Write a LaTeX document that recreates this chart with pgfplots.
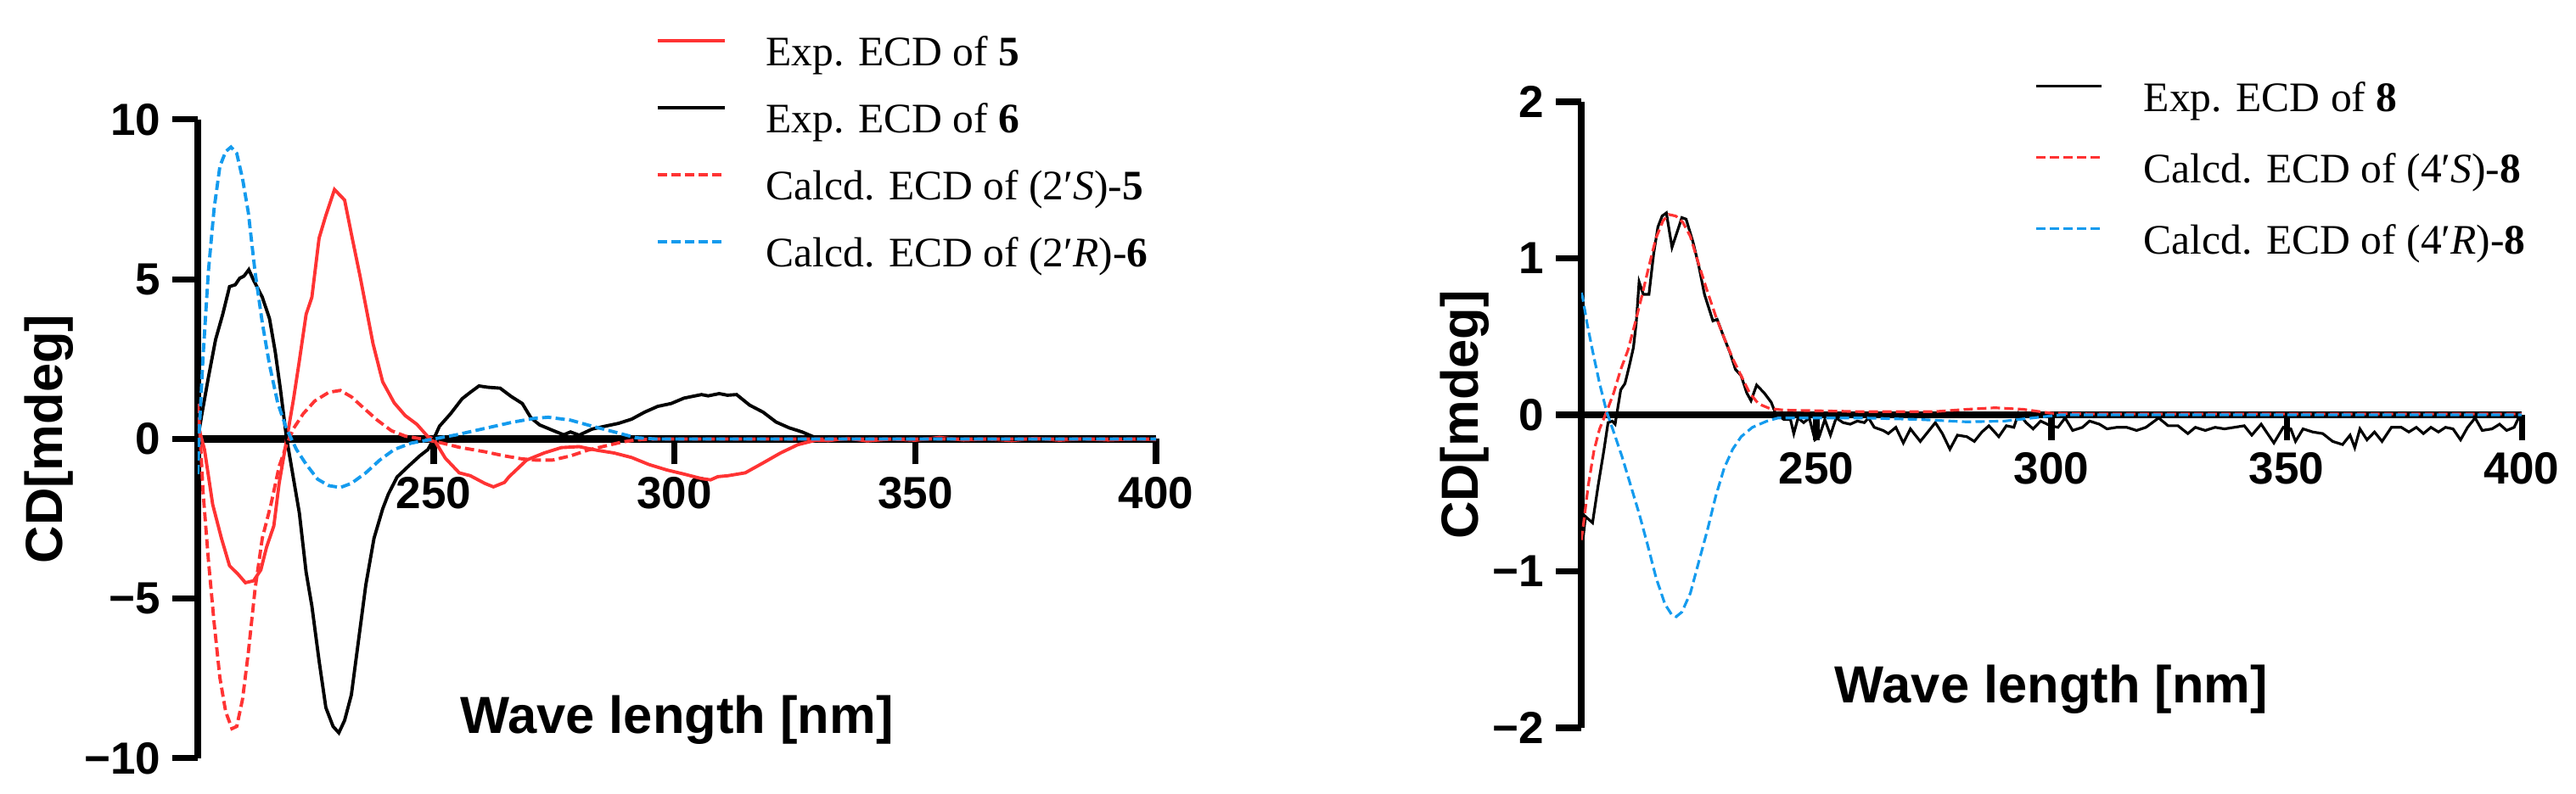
\documentclass[border=0pt]{standalone}
\usepackage{fontspec}
\setmainfont{Liberation Serif}
\newfontfamily\arialfont{Liberation Sans}
\usepackage{pgfplots}
\pgfplotsset{compat=1.18}
\definecolor{cdred}{RGB}{255,51,51}
\definecolor{cdblue}{RGB}{20,155,238}
\newcommand{\tickfont}{\arialfont\bfseries\fontsize{15.1pt}{16pt}\selectfont}
\newcommand{\labfont}{\arialfont\bfseries\fontsize{17.5pt}{19pt}\selectfont}
\newcommand{\legfont}{\fontsize{14.1pt}{16pt}\selectfont}
\pgfplotsset{
  cdaxis/.style={
    scale only axis,
    anchor=south west,
    axis x line=middle, axis y line=left,
    axis line style={line width=2.3pt,-},
    every inner x axis line/.append style={-},
    every outer x axis line/.append style={-},
    every inner y axis line/.append style={-},
    every outer y axis line/.append style={-},
    hide obscured x ticks=false, hide obscured y ticks=false,
    tick align=outside,
    major tick length=0.3cm,
    tick style={line width=2pt,black},
    xtick={250,300,350,400},
    xticklabels={250,300,350,400},
    xmax=400,
    ticklabel style={font=\tickfont},
    xticklabel style={inner sep=0pt, yshift=-0.14cm},
    yticklabel style={inner sep=0pt, xshift=-0.13cm},
    xlabel={Wave length [nm]},
    ylabel={CD[mdeg]},
    every axis x label/.style={font=\labfont,anchor=center},
    every axis y label/.style={font=\labfont,anchor=center,rotate=90},
    legend cell align=left,
    legend style={draw=none, fill=none, inner sep=0pt, font=\legfont,
      nodes={inner sep=0pt, text height=0.36cm, text depth=0.1cm},
      /tikz/every odd column/.append style={column sep=0.47cm}},
  },
  cddash/.style={dash pattern=on 3.1pt off 1.45pt},
}
\begin{document}
\begin{tikzpicture}
\useasboundingbox (0,0) rectangle (30.35cm,9.36cm);
% ---------------- left panel ----------------
\begin{axis}[cdaxis,
  at={(2.33cm,0.42cm)}, width=11.29cm, height=7.53cm,
  xmin=201, ymin=-10, ymax=10,
  ytick={-10,-5,0,5,10}, yticklabels={−10,−5,0,5,10},
  every axis x label/.append style={at={(axis description cs:0.5,0.06)}},
  every axis y label/.append style={at={(axis description cs:-0.155,0.5)}},
  legend image code/.code={\draw[#1] (0cm,0.17cm) -- (0.79cm,0.17cm);},
  legend style={at={(axis description cs:0.4775,1.1328)}, anchor=north west, row sep=0.33cm},
]
\addplot[cdred, line width=1.1pt] coordinates {
(201,0.46)(202.4,-0.33)(204.1,-2.05)(205.9,-3.1)(207.6,-3.97)(209.4,-4.24)(210.9,-4.5)(212.6,-4.44)(214.1,-4.1)(215.3,-3.38)(216.8,-2.72)(217.9,-1.39)(219.4,-0.07)(220.9,1.26)(222.1,2.45)(223.5,3.9)(224.7,4.44)(226.2,6.29)(227.6,7.0)(229.4,7.81)(231.5,7.48)(232.9,6.42)(234.7,5.1)(237.4,2.98)(239.4,1.79)(241.8,1.13)(244.1,0.73)(246.5,0.46)(248.8,0.07)(250,0)(252.4,-0.6)(255.3,-1.06)(257.6,-1.15)(260.6,-1.39)(262.4,-1.5)(264.7,-1.36)(265.6,-1.19)(269.3,-0.66)(272.9,-0.44)(276.5,-0.27)(280.2,-0.24)(283.8,-0.35)(287.5,-0.44)(291.1,-0.58)(294.7,-0.8)(298.4,-0.97)(302.0,-1.1)(305.6,-1.24)(307.5,-1.28)(309,-1.18)(311.1,-1.15)(314.7,-1.06)(318.4,-0.75)(322.0,-0.44)(325.6,-0.18)(329.3,-0.04)(332,-0.05)(336,0.02)(340,-0.06)(345,0.0)(350,-0.04)(355,0.05)(360,-0.03)(365,0.0)(370,-0.05)(375,0.02)(380,-0.04)(385,0.01)(390,-0.03)(395,0.0)(400,-0.02)
};
\addlegendentry{Exp. ECD of \textbf{5}}
\addplot[black, line width=1.1pt] coordinates {
(201,0)(201.8,0.73)(203.2,1.92)(204.7,3.11)(206.2,3.91)(207.6,4.77)(208.8,4.83)(209.7,5.03)(210.6,5.1)(211.6,5.3)(212.6,4.97)(214.4,4.44)(215.9,3.77)(217.1,2.72)(218.2,1.52)(219.4,0.07)(220.9,-1.26)(222.1,-2.32)(223.5,-4.17)(224.7,-5.23)(226.2,-6.95)(227.6,-8.41)(229.1,-9.0)(230.3,-9.2)(231.5,-8.81)(232.9,-8.01)(234.4,-6.29)(235.9,-4.57)(237.6,-3.11)(239.4,-2.19)(240.6,-1.72)(242.4,-1.19)(244.7,-0.86)(247.1,-0.53)(248.8,-0.33)(250,0)(251.2,0.4)(253.5,0.79)(255.9,1.26)(257.6,1.46)(259.4,1.66)(261.2,1.62)(263.8,1.59)(266.1,1.33)(268.4,1.11)(270.2,0.66)(272.0,0.44)(274.7,0.27)(277.0,0.13)(278.4,0.22)(280.2,0.12)(282.9,0.31)(285.6,0.4)(288.4,0.49)(291.1,0.62)(293.8,0.84)(296.5,1.02)(299.3,1.11)(302.0,1.28)(305.6,1.39)(307,1.35)(309.3,1.42)(311,1.37)(312.9,1.39)(315.6,1.06)(318.4,0.84)(321.1,0.53)(323.8,0.35)(326.5,0.22)(329.3,0.04)(332.0,0.06)(336,0.0)(340,0.02)(350,0.0)(360,0.01)(370,-0.01)(380,0.0)(390,0.01)(400,0)
};
\addlegendentry{Exp. ECD of \textbf{6}}
\addplot[cdred, line width=1.1pt, cddash] coordinates {
(201,1.1)(201.5,0.1)(202.1,-1.66)(203.2,-3.77)(204.4,-5.76)(205.6,-7.48)(206.8,-8.54)(208.1,-9.07)(209.1,-9.0)(210.3,-8.15)(211.5,-6.69)(212.9,-4.7)(214.4,-3.11)(216.2,-2.05)(217.9,-0.86)(219.4,-0.2)(220.9,0.33)(222.9,0.79)(225.3,1.19)(228.2,1.46)(230.6,1.52)(232.9,1.32)(235.3,0.99)(238.2,0.6)(241.2,0.26)(244.1,0.09)(247.6,0)(251.8,-0.13)(255.3,-0.26)(260.6,-0.4)(264.7,-0.53)(268.2,-0.62)(271.1,-0.66)(274.7,-0.66)(278.4,-0.53)(282.0,-0.35)(285.6,-0.22)(289.3,-0.09)(292.0,-0.03)(296,0)(400,0)
};
\addlegendentry{Calcd. ECD of (2′\textit{S})-\textbf{5}}
\addplot[cdblue, line width=1.1pt, cddash] coordinates {
(201,-1.1)(201.3,0.2)(202.1,2.58)(203.2,5.23)(204.4,7.22)(205.6,8.54)(206.8,9.0)(207.9,9.14)(209.1,8.94)(210.3,8.15)(211.5,7.09)(212.9,5.23)(214.4,3.64)(215.9,2.32)(217.6,1.13)(219.4,0.33)(221.5,-0.33)(223.5,-0.79)(225.9,-1.26)(228.2,-1.46)(230.6,-1.52)(232.9,-1.39)(235.9,-1.06)(238.8,-0.66)(241.8,-0.33)(245.3,-0.13)(250,0)(254.7,0.13)(260.6,0.33)(266.5,0.53)(271.1,0.65)(273.8,0.68)(278.4,0.59)(282.9,0.4)(287.5,0.22)(292.0,0.04)(296,0)(400,0)
};
\addlegendentry{Calcd. ECD of (2′\textit{R})-\textbf{6}}
\end{axis}
% ---------------- right panel ----------------
\begin{axis}[cdaxis,
  at={(18.63cm,0.78cm)}, width=11.08cm, height=7.38cm,
  xmin=200, ymin=-2, ymax=2,
  ytick={-2,-1,0,1,2}, yticklabels={−2,−1,0,1,2},
  every axis x label/.append style={at={(axis description cs:0.5,0.061)}},
  every axis y label/.append style={at={(axis description cs:-0.124,0.5)}},
  legend image code/.code={\draw[#1] (0cm,0.17cm) -- (0.77cm,0.17cm);},
  legend style={at={(axis description cs:0.482,1.034)}, anchor=north west, row sep=0.38cm,
    /tikz/every odd column/.append style={column sep=0.48cm}},
]
\addplot[black, line width=0.9pt] coordinates {
(200,-0.9)(200.9,-0.65)(202.4,-0.69)(203.6,-0.45)(204.8,-0.23)(205.7,-0.05)(206.6,-0.04)(207.2,-0.06)(207.8,0.05)(208.4,0.16)(209.3,0.2)(210.2,0.31)(211.1,0.43)(211.7,0.59)(212.3,0.85)(213.2,0.77)(214.4,0.77)(215.4,1.03)(216.3,1.2)(217.2,1.27)(218.1,1.29)(219.3,1.07)(221.4,1.26)(222.3,1.25)(223.8,1.1)(225.0,0.95)(226.2,0.77)(228.0,0.6)(228.9,0.61)(230.4,0.49)(231.6,0.4)(232.8,0.29)(234.0,0.25)(235.2,0.14)(236.1,0.09)(237.3,0.19)(238.9,0.14)(240.4,0.08)(241.3,0.01)(243.1,-0.03)(244.5,-0.03)(245.2,-0.12)(246.1,-0.02)(247.3,-0.05)(248.5,-0.02)(249.7,-0.16)(250.6,-0.14)(251.8,-0.03)(253.0,-0.13)(254.2,-0.02)(255.7,-0.05)(257.2,-0.06)(258.7,-0.04)(260.2,-0.05)(261.1,-0.02)(262.3,-0.08)(264.2,-0.1)(265.3,-0.12)(266.9,-0.08)(268.5,-0.18)(270.0,-0.09)(272.1,-0.17)(273.7,-0.11)(275.3,-0.05)(276.8,-0.12)(278.4,-0.22)(280.0,-0.13)(282.0,-0.14)(283.6,-0.17)(285.2,-0.11)(286.7,-0.07)(288.8,-0.14)(290.4,-0.07)(292.0,-0.08)(293.0,0.01)(294.6,-0.05)(296.1,-0.09)(297.7,-0.04)(299.8,-0.07)(301.4,-0.08)(302.9,-0.02)(304.5,-0.1)(306.6,-0.08)(308.1,-0.04)(310.2,-0.06)(311.8,-0.09)(313.9,-0.08)(316.0,-0.08)(318.1,-0.10)(320.1,-0.08)(322.8,-0.02)(324.8,-0.07)(326.9,-0.07)(329.0,-0.12)(330.6,-0.08)(332.7,-0.10)(334.8,-0.08)(336.8,-0.09)(338.9,-0.08)(341.0,-0.07)(342.6,-0.13)(344.6,-0.06)(347.3,-0.18)(349.3,-0.08)(350.9,-0.09)(351.9,-0.17)(353.5,-0.09)(355.6,-0.11)(357.7,-0.12)(359.8,-0.17)(361.9,-0.19)(363.5,-0.13)(364.5,-0.21)(365.6,-0.09)(367.1,-0.16)(368.7,-0.11)(370.3,-0.17)(372.3,-0.08)(374.4,-0.08)(376.0,-0.11)(377.6,-0.08)(379.1,-0.12)(380.7,-0.08)(382.3,-0.11)(383.8,-0.08)(385.4,-0.09)(387.0,-0.16)(388.5,-0.08)(390.1,-0.02)(391.6,-0.10)(393.7,-0.09)(395.3,-0.06)(396.8,-0.10)(398.4,-0.08)(399.5,-0.01)(400,-0.03)
};
\addlegendentry{Exp. ECD of \textbf{8}}
\addplot[cdred, line width=0.9pt, cddash] coordinates {
(200,-0.8)(200.3,-0.74)(201.5,-0.45)(202.7,-0.23)(203.9,-0.09)(205.4,0.02)(206.9,0.14)(208.4,0.29)(209.9,0.41)(211.4,0.58)(212.9,0.76)(214.4,0.95)(215.9,1.13)(217.4,1.24)(218.6,1.28)(220.1,1.27)(221.6,1.23)(223.2,1.14)(224.9,0.97)(226.8,0.79)(228.6,0.63)(230.4,0.49)(232.2,0.36)(234.0,0.25)(235.8,0.14)(237.7,0.07)(240.1,0.04)(243.1,0.03)(260,0.02)(275,0.02)(282,0.035)(288,0.045)(294,0.035)(300,0.01)(310,0.005)(400,0.005)
};
\addlegendentry{Calcd. ECD of (4′\textit{S})-\textbf{8}}
\addplot[cdblue, line width=0.9pt, cddash] coordinates {
(200,0.78)(200.3,0.75)(201.2,0.59)(202.4,0.41)(203.9,0.2)(205.4,0.02)(206.9,-0.11)(208.7,-0.27)(210.5,-0.45)(212.3,-0.63)(214.1,-0.83)(215.9,-1.04)(217.8,-1.21)(219.3,-1.28)(220.2,-1.29)(221.4,-1.26)(223.2,-1.14)(224.9,-0.95)(226.8,-0.74)(228.6,-0.52)(230.4,-0.34)(232.2,-0.22)(234.0,-0.14)(236.4,-0.08)(239.5,-0.04)(241.9,-0.02)(260,-0.02)(272,-0.03)(282,-0.045)(290,-0.04)(296,-0.02)(302,0)(400,0)
};
\addlegendentry{Calcd. ECD of (4′\textit{R})-\textbf{8}}
\end{axis}
\end{tikzpicture}
\end{document}
